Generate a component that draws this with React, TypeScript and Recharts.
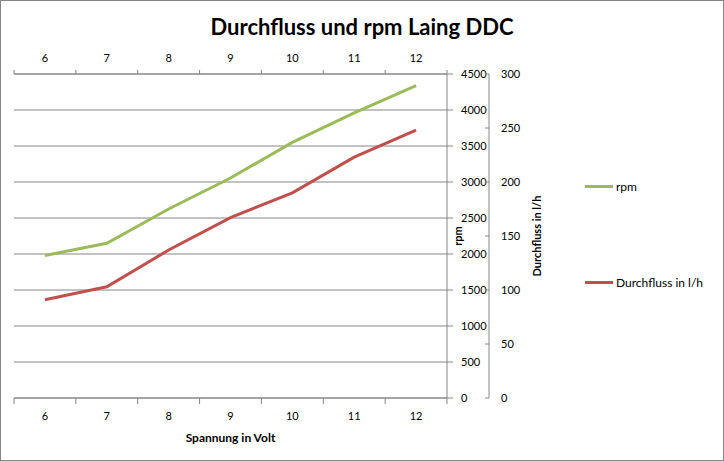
import React from "react";
import { LineChart, Line, XAxis, YAxis, CartesianGrid } from "recharts";

const volts = [6, 7, 8, 9, 10, 11, 12];
const rpmValues = [1980, 2150, 2625, 3055, 3550, 3960, 4340];
const flowValues = [91, 103, 137, 167, 190, 223, 248];
const rpmTicks = [0, 500, 1000, 1500, 2000, 2500, 3000, 3500, 4000, 4500];
const flowTicks = [0, 50, 100, 150, 200, 250, 300];

const data = volts.map((v, i) => ({ v, rpm: rpmValues[i], flow: flowValues[i] }));
// label ticks at category centres, tick marks on category boundaries (Excel style)
const xTicks = [volts[0] - 0.5, ...volts.flatMap((v) => [v, v + 0.5])];

const FONT = "Lato, 'Open Sans', sans-serif";
const AXIS = "#868686";
const GREEN = "#9BBB59";
const RED = "#C0504D";

const BottomTick = (props: any) => {
  const { x, y, payload } = props;
  if (Number.isInteger(payload.value)) {
    return (
      <text x={x} y={y + 18} dy="0.35em" textAnchor="middle" fontSize={11} fill="#000" fontFamily={FONT}>
        {payload.value}
      </text>
    );
  }
  return <line x1={x} x2={x} y1={y} y2={y + 6} stroke={AXIS} />;
};

const TopTick = (props: any) => {
  const { x, y, payload } = props;
  if (Number.isInteger(payload.value)) {
    return (
      <text x={x} y={y - 16} dy="0.35em" textAnchor="middle" fontSize={11} fill="#000" fontFamily={FONT}>
        {payload.value}
      </text>
    );
  }
  return <line x1={x} x2={x} y1={y} y2={y - 4} stroke={AXIS} />;
};

const RpmTick = (props: any) => {
  const { x, y, payload } = props;
  return (
    <g>
      <line x1={x} x2={x + 6} y1={y} y2={y} stroke={AXIS} />
      <text x={x + 14} y={y} dy="0.35em" textAnchor="start" fontSize={11} fill="#000" fontFamily={FONT}>
        {payload.value}
      </text>
    </g>
  );
};

const FlowTick = (props: any) => {
  const { x, y, payload } = props;
  return (
    <g>
      <line x1={x - 4} x2={x} y1={y} y2={y} stroke={AXIS} />
      <text x={x + 12} y={y} dy="0.35em" textAnchor="start" fontSize={11} fill="#000" fontFamily={FONT}>
        {payload.value}
      </text>
    </g>
  );
};

const sideLabel = (text: string, dx: number) => (props: any) => {
  const { viewBox } = props;
  const cx = viewBox.x + dx;
  const cy = viewBox.y + viewBox.height / 2;
  return (
    <text
      x={cx}
      y={cy}
      transform={`rotate(-90, ${cx}, ${cy})`}
      textAnchor="middle"
      dy="0.35em"
      fontSize={11}
      fontWeight="bold"
      fill="#000"
      fontFamily={FONT}
    >
      {text}
    </text>
  );
};

export default function App() {
  return (
    <div style={{ position: "absolute", left: 0, top: 0, width: 724, height: 461, background: "#fff", fontFamily: FONT }}>
      <LineChart width={724} height={461} data={data} margin={{ top: 40, right: 165, bottom: 0, left: 14 }}>
        <CartesianGrid vertical={false} yAxisId="y1" stroke={AXIS} />
        <XAxis
          xAxisId="bottom"
          dataKey="v"
          type="number"
          domain={[5.5, 12.5]}
          ticks={xTicks}
          interval={0}
          orientation="bottom"
          height={63}
          tickSize={0}
          tickMargin={0}
          tickLine={false}
          axisLine={{ stroke: AXIS }}
          tick={<BottomTick />}
          label={{ value: "Spannung  in Volt", position: "insideBottom", offset: 19, fontSize: 12, fontWeight: "bold", fill: "#000", fontFamily: FONT }}
        />
        <XAxis
          xAxisId="top"
          dataKey="v"
          type="number"
          domain={[5.5, 12.5]}
          ticks={xTicks}
          interval={0}
          orientation="top"
          height={34}
          tickSize={0}
          tickMargin={0}
          tickLine={false}
          axisLine={{ stroke: AXIS }}
          tick={<TopTick />}
        />
        <YAxis
          yAxisId="y1"
          orientation="right"
          domain={[0, 4500]}
          ticks={rpmTicks}
          interval={0}
          width={42}
          tickSize={0}
          tickMargin={0}
          tickLine={false}
          axisLine={{ stroke: AXIS }}
          tick={<RpmTick />}
          label={{ content: sideLabel("rpm", 11) }}
        />
        <YAxis
          yAxisId="y2"
          orientation="right"
          domain={[0, 300]}
          ticks={flowTicks}
          interval={0}
          width={70}
          tickSize={0}
          tickMargin={0}
          tickLine={false}
          axisLine={{ stroke: AXIS }}
          tick={<FlowTick />}
          label={{ content: sideLabel("Durchfluss  in l/h", 48) }}
        />
        <Line
          xAxisId="bottom"
          yAxisId="y1"
          dataKey="rpm"
          stroke={GREEN}
          strokeWidth={3}
          dot={false}
          isAnimationActive={false}
        />
        <Line
          xAxisId="bottom"
          yAxisId="y2"
          dataKey="flow"
          stroke={RED}
          strokeWidth={3}
          dot={false}
          isAnimationActive={false}
        />
      </LineChart>
      <div
        style={{
          position: "absolute",
          left: 0,
          top: 12,
          width: 724,
          textAlign: "center",
          fontSize: 22,
          fontWeight: "bold",
          lineHeight: "30px",
        }}
      >
        Durchfluss und rpm Laing DDC
      </div>
      {[
        { name: "rpm", color: GREEN, top: 186 },
        { name: "Durchfluss in l/h", color: RED, top: 282 },
      ].map((s) => (
        <div key={s.name} style={{ position: "absolute", left: 585, top: s.top - 8, height: 16, display: "flex", alignItems: "center", fontSize: 12 }}>
          <span style={{ display: "inline-block", width: 28, height: 3, background: s.color, marginRight: 3 }} />
          <span>{s.name}</span>
        </div>
      ))}
      <div style={{ position: "absolute", inset: 0, border: "1px solid #868686", pointerEvents: "none" }} />
    </div>
  );
}
